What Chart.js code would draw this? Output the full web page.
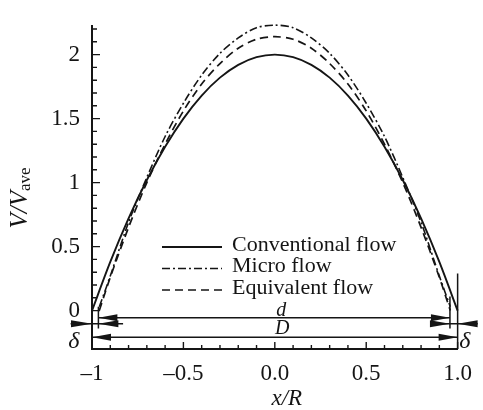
<!DOCTYPE html>
<html>
<head>
<meta charset="utf-8">
<script src="https://cdn.jsdelivr.net/npm/chart.js@4.4.1/dist/chart.umd.min.js"></script>
<style>
html, body { margin: 0; padding: 0; background: #fff; }
</style>
</head>
<body>
<canvas id="graficoPerfil" width="483" height="410"></canvas>
<script>
// valores
const xConv = [-1, -0.9, -0.8, -0.7, -0.6, -0.5, -0.4, -0.3, -0.2, -0.1, 0, 0.1, 0.2, 0.3, 0.4, 0.5, 0.6, 0.7, 0.8, 0.9, 1];
const vConv = [0, 0.38, 0.72, 1.02, 1.28, 1.5, 1.68, 1.82, 1.92, 1.98, 2.0, 1.98, 1.92, 1.82, 1.68, 1.5, 1.28, 1.02, 0.72, 0.38, 0];
const xMicro = [-0.96, -0.9, -0.8, -0.7, -0.6, -0.5, -0.4, -0.3, -0.2, -0.1, 0, 0.1, 0.2, 0.3, 0.4, 0.5, 0.6, 0.7, 0.8, 0.9, 0.96];
const vMicro = [0.03, 0.27, 0.69, 1.04, 1.36, 1.62, 1.84, 2.01, 2.13, 2.21, 2.23, 2.21, 2.13, 2.01, 1.84, 1.62, 1.36, 1.04, 0.69, 0.27, 0.03];
const xEquiv = [-0.96, -0.9, -0.8, -0.7, -0.6, -0.5, -0.4, -0.3, -0.2, -0.1, 0, 0.1, 0.2, 0.3, 0.4, 0.5, 0.6, 0.7, 0.8, 0.9, 0.96];
const vEquiv = [0, 0.26, 0.65, 1.0, 1.3, 1.56, 1.77, 1.93, 2.05, 2.12, 2.14, 2.12, 2.05, 1.93, 1.77, 1.56, 1.3, 1.0, 0.65, 0.26, 0];
const seriesNames = ['Conventional flow', 'Micro flow', 'Equivalent flow'];
const xTicks = [-1, -0.5, 0, 0.5, 1];
const xTickLabels = ['\u20131', '\u20130.5', '0.0', '0.5', '1.0'];
const yTicks = [0, 0.5, 1, 1.5, 2];
const yTickLabels = ['0', '0.5', '1', '1.5', '2'];

const SERIF = '"Liberation Serif", "Times New Roman", serif';
const INK = '#151515';

function toPoints(xs, vs) {
    return xs.map((x, i) => ({ x: x, y: vs[i] }));
}

function punta(ctx, tipX, y, dir, len, half) {
    ctx.beginPath();
    ctx.moveTo(tipX, y);
    ctx.lineTo(tipX - dir * len, y - half);
    ctx.lineTo(tipX - dir * len, y + half);
    ctx.closePath();
    ctx.fill();
}

// marcas, cotas, leyenda y títulos de ejes
const extras = {
    id: 'extras',
    afterDraw(chart) {
        const ctx = chart.ctx;
        const xs = chart.scales.x, ys = chart.scales.y;
        const area = chart.chartArea;
        ctx.save();
        ctx.strokeStyle = INK;
        ctx.fillStyle = INK;

        // ticks hacia dentro
        ctx.lineWidth = 1.4;
        ctx.beginPath();
        for (let i = -10; i <= 10; i++) {
            const px = xs.getPixelForValue(i / 10);
            const len = i % 5 === 0 ? 7 : 4;
            ctx.moveTo(px, area.bottom);
            ctx.lineTo(px, area.bottom - len);
        }
        for (let i = 0; i <= 22; i++) {
            const py = ys.getPixelForValue(i / 10);
            const len = i % 5 === 0 ? 8 : 5;
            ctx.moveTo(area.left, py);
            ctx.lineTo(area.left + len, py);
        }
        ctx.stroke();

        // líneas de cota
        const X = v => xs.getPixelForValue(v);
        const Y = v => ys.getPixelForValue(v);
        ctx.lineWidth = 1.5;
        ctx.beginPath();
        ctx.moveTo(X(-0.965), Y(0.03)); ctx.lineTo(X(-0.965), Y(-0.14));
        ctx.moveTo(X(0.958), Y(0.11)); ctx.lineTo(X(0.958), Y(-0.14));
        ctx.moveTo(X(1), Y(0.29)); ctx.lineTo(X(1), area.bottom);
        // d
        ctx.moveTo(X(-0.965), Y(-0.056)); ctx.lineTo(X(0.958), Y(-0.056));
        // D
        ctx.moveTo(X(-1), Y(-0.208)); ctx.lineTo(X(1), Y(-0.208));
        // delta
        ctx.moveTo(X(-1.117), Y(-0.103)); ctx.lineTo(X(-0.83), Y(-0.103));
        ctx.moveTo(X(0.853), Y(-0.103)); ctx.lineTo(X(1.11), Y(-0.103));
        ctx.stroke();

        punta(ctx, X(-0.965), Y(-0.056), -1, 19, 3.5);
        punta(ctx, X(0.958), Y(-0.056), 1, 19, 3.5);
        punta(ctx, X(-1), Y(-0.208), -1, 19, 3.5);
        punta(ctx, X(1), Y(-0.208), 1, 19, 3.5);
        punta(ctx, X(-1), Y(-0.103), 1, 21, 3.5);
        punta(ctx, X(-0.965), Y(-0.103), -1, 20, 3.5);
        punta(ctx, X(0.958), Y(-0.103), 1, 20, 3.5);
        punta(ctx, X(1), Y(-0.103), -1, 20, 3.5);

        ctx.textAlign = 'center';
        ctx.textBaseline = 'middle';
        ctx.font = 'italic 20px ' + SERIF;
        ctx.fillText('d', X(0.035), Y(0.0));
        ctx.fillText('D', X(0.04), Y(-0.14));
        ctx.font = 'italic 24px ' + SERIF;
        ctx.fillText('\u03b4', X(-1.1), Y(-0.24));
        ctx.fillText('\u03b4', X(1.04), Y(-0.24));

        // leyenda
        const lx = area.left + 70, ly = 245, gap = 21.5;
        ctx.textAlign = 'left';
        ctx.font = '22px ' + SERIF;
        chart.data.datasets.forEach((ds, i) => {
            const y = ly + i * gap;
            ctx.save();
            ctx.lineWidth = ds.borderWidth;
            ctx.setLineDash(ds.borderDash || []);
            ctx.beginPath();
            ctx.moveTo(lx, y + 2);
            ctx.lineTo(lx + 60, y + 2);
            ctx.stroke();
            ctx.restore();
            ctx.fillText(ds.label, lx + 70, y);
        });

        // títulos de ejes
        ctx.font = 'italic 23px ' + SERIF;
        ctx.textAlign = 'center';
        ctx.fillText('x/R', (area.left + area.right) / 2 + 12, 399);

        ctx.translate(19, 198);
        ctx.rotate(-Math.PI / 2);
        ctx.textAlign = 'left';
        ctx.textBaseline = 'alphabetic';
        ctx.font = 'italic 25px ' + SERIF;
        const main = 'V/V';
        const w1 = ctx.measureText(main).width;
        ctx.font = '17px ' + SERIF;
        const w2 = ctx.measureText('ave').width;
        const start = -(w1 + w2) / 2;
        ctx.font = 'italic 25px ' + SERIF;
        ctx.fillText(main, start, 8);
        ctx.font = '17px ' + SERIF;
        ctx.fillText('ave', start + w1, 11);
        ctx.restore();
    }
};

new Chart(document.getElementById('graficoPerfil').getContext('2d'), {
    type: 'line',
    data: {
        datasets: [{
            label: seriesNames[0],
            data: toPoints(xConv, vConv),
            borderColor: INK,
            borderWidth: 1.9,
            pointRadius: 0,
            tension: 0.3,
            clip: false
        }, {
            label: seriesNames[1],
            data: toPoints(xMicro, vMicro),
            borderColor: INK,
            borderWidth: 1.6,
            borderDash: [8, 3, 2, 3],
            pointRadius: 0,
            tension: 0.3,
            clip: false
        }, {
            label: seriesNames[2],
            data: toPoints(xEquiv, vEquiv),
            borderColor: INK,
            borderWidth: 1.7,
            borderDash: [8, 5],
            pointRadius: 0,
            tension: 0.3,
            clip: false
        }]
    },
    options: {
        responsive: false,
        animation: false,
        layout: { padding: { left: 0, right: 20, top: 13, bottom: 0 } },
        plugins: {
            legend: { display: false },
            tooltip: { enabled: false }
        },
        scales: {
            x: {
                type: 'linear',
                min: -1,
                max: 1,
                afterFit(scale) { scale.height = 61; },
                afterBuildTicks(scale) { scale.ticks = xTicks.map(v => ({ value: v })); },
                grid: { display: false, drawTicks: false },
                border: { display: true, color: INK, width: 2 },
                ticks: {
                    padding: 11,
                    maxRotation: 0,
                    autoSkip: false,
                    color: INK,
                    font: { family: SERIF, size: 23 },
                    callback: (v) => xTickLabels[xTicks.indexOf(v)]
                }
            },
            y: {
                type: 'linear',
                min: -0.3,
                max: 2.225,
                afterFit(scale) { scale.width = 92; },
                afterBuildTicks(scale) { scale.ticks = yTicks.map(v => ({ value: v })); },
                grid: { display: false, drawTicks: false },
                border: { display: true, color: INK, width: 2 },
                ticks: {
                    padding: 12,
                    autoSkip: false,
                    color: INK,
                    font: { family: SERIF, size: 23 },
                    callback: (v) => yTickLabels[yTicks.indexOf(v)]
                }
            }
        }
    },
    plugins: [extras]
});
</script>
</body>
</html>
